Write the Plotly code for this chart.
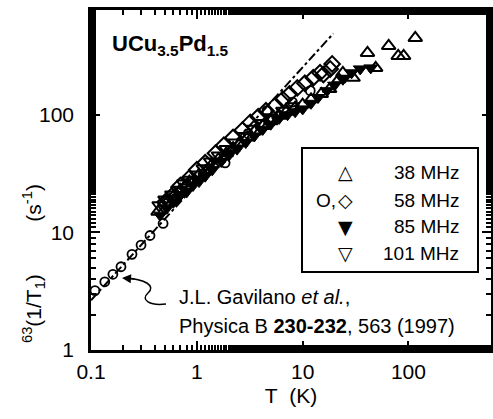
import plotly.graph_objects as go

# ---------------- data ----------------
# open circles (58 MHz, low T)
T_circ = [0.109, 0.135, 0.161, 0.192, 0.244, 0.297, 0.361, 0.48, 0.62, 0.9, 1.3, 1.85, 3.06, 4.6, 8.0, 11.8]
R_circ = [3.2, 3.8, 4.4, 5.1, 6.5, 7.8, 9.4, 11.9, 19, 27, 35, 39, 69, 108, 128, 160]

# 38 MHz open up-triangles
T_38 = [0.43, 0.5, 0.55, 0.62, 0.7, 0.78, 0.85, 0.95, 1.05, 1.2, 1.4, 1.6, 1.9, 2.2, 2.6, 3.0, 3.5, 4.2,
        5.0, 6.0, 7.0, 8.5, 10, 12, 15, 18, 22, 24, 30, 41, 49, 65, 80, 90, 116]
R_38 = [15, 18, 19, 21, 23, 25, 27, 28, 31, 33, 38, 42, 47, 52, 58, 64, 72, 80,
        88, 98, 106, 115, 122, 135, 150, 165, 200, 227, 206, 335, 250, 384, 316, 316, 449]

# 58 MHz open diamonds
T_58 = [0.5, 0.6, 0.7, 0.85, 1.0, 1.2, 1.5, 1.8, 2.2, 2.7, 3.2, 3.8, 4.5, 5.5, 6.5, 7.5, 8.9, 10.5,
        12.6, 14.6, 15.7, 18.2, 19]
R_58 = [18, 21, 25, 29, 34, 39, 47, 55, 64, 74, 86, 96, 108, 120, 135, 150, 169, 185,
        206, 227, 220, 245, 270]

# 85 MHz filled down-triangles
T_85 = [0.45, 0.52, 0.6, 0.68, 0.8, 0.92, 1.05, 1.2, 1.4, 1.7, 2.0, 2.4, 2.9, 3.5, 4.2, 5.0, 6.0, 7.2,
        8.5, 10, 12, 14, 17, 20, 24, 29, 35, 44]
R_85 = [14, 16, 18, 20, 22, 25, 27, 30, 34, 40, 45, 51, 58, 66, 75, 83, 93, 100,
        106, 112, 125, 140, 160, 178, 200, 227, 245, 250]

# 101 MHz open down-triangles
T_101 = [0.44, 0.5, 0.58, 0.66, 0.75, 0.85, 1.0, 1.15, 1.35, 1.6, 1.9, 2.3, 2.8, 3.4, 4.0, 5.0, 6.5, 8.0]
R_101 = [17, 19, 21, 23, 26, 28, 31, 35, 40, 45, 51, 58, 66, 76, 85, 95, 108, 118]

# dash-dot linear (Korringa-like) line
T_line = [0.1, 19.5]
R_line = [2.65, 490]

x_ticks = [0.1, 1, 10, 100]
x_ticktext = ["0.1", "1", "10", "100"]
y_ticks = [1, 10, 100]
y_ticktext = ["1", "10", "100"]

legend_labels = ["38 MHz", "58 MHz", "85 MHz", "101 MHz"]
legend_symbols = ["\u25b3", "\u25c7", "\u25bc", "\u25bd"]

# ---------------- layout geometry ----------------
W, H = 493, 419
L, R, Tm, B = 91, 2, 10, 69
PW, PH = W - L - R, H - Tm - B


def px(x):
    return (x - L) / PW


def py(y):
    return (H - B - y) / PH


FONT = "Liberation Sans, Arial, Helvetica, sans-serif"
XR, YR = "x domain", "y domain"

fig = go.Figure()

fig.add_trace(go.Scatter(x=T_line, y=R_line, mode="lines",
                         line=dict(color="black", width=2, dash="dashdot"), showlegend=False))
mk = dict(size=12, line=dict(color="black", width=2))
fig.add_trace(go.Scatter(x=T_38, y=R_38, mode="markers",
                         marker=dict(symbol="triangle-up-open", color="black", **mk), showlegend=False))
fig.add_trace(go.Scatter(x=T_58, y=R_58, mode="markers",
                         marker=dict(symbol="diamond-open", color="black", **mk), showlegend=False))
fig.add_trace(go.Scatter(x=T_101, y=R_101, mode="markers",
                         marker=dict(symbol="triangle-down-open", color="black", **mk), showlegend=False))
fig.add_trace(go.Scatter(x=T_85, y=R_85, mode="markers",
                         marker=dict(symbol="triangle-down", color="black", size=12,
                                     line=dict(color="black", width=1)), showlegend=False))
fig.add_trace(go.Scatter(x=T_circ, y=R_circ, mode="markers",
                         marker=dict(symbol="circle-open", color="black", size=9,
                                     line=dict(color="black", width=1.8)), showlegend=False))

axis_common = dict(type="log", showline=True, linecolor="black", linewidth=2.5, mirror="ticks",
                   ticks="inside", ticklen=9, tickwidth=2, tickcolor="black", showgrid=False,
                   zeroline=False, automargin=False,
                   tickfont=dict(family=FONT, size=21, color="black"),
                   minor=dict(ticks="inside", ticklen=5, tickwidth=1.5, tickcolor="black", showgrid=False))

fig.update_xaxes(range=[-1, 2.78], tickvals=x_ticks, ticktext=x_ticktext, ticklabelstandoff=1,
                 title=dict(text="T\u00a0\u00a0(K)", font=dict(family=FONT, size=21, color="black"),
                            standoff=7), **axis_common)
fig.update_yaxes(range=[0, 2.89], tickvals=y_ticks, ticktext=y_ticktext, ticklabelstandoff=10,
                 **axis_common)


def note(x, y, text, size, xanchor="center", family=FONT, **kw):
    return dict(xref=XR, yref=YR, x=px(x), y=py(y), xanchor=xanchor, yanchor="middle",
                showarrow=False, text=text, font=dict(family=family, size=size, color="black"), **kw)


ann = []
# y-axis title (rotated)
ann.append(note(33, 264,
                "<sup>63</sup>(1/T<sub>1</sub>)" + "\u00a0" * 9 + "(s<sup>-1</sup>)",
                21, textangle=-90))
# compound name
ann.append(note(110, 45, "<b>UCu<sub>3.5</sub>Pd<sub>1.5</sub></b>", 22, xanchor="left"))
# reference text
ann.append(note(177, 297, "J.L. Gavilano <i>et al.</i>,", 20, xanchor="left"))
ann.append(note(177, 326, "Physica B <b>230-232</b>, 563 (1997)", 20, xanchor="left"))
# arrowhead
ann.append(dict(xref=XR, yref=YR, x=px(122), y=py(278), ax=14, ay=1, text="",
                showarrow=True, arrowhead=2, arrowsize=1.2, arrowwidth=1.5, arrowcolor="black"))

# legend (drawn manually)
rows_y = [172, 200, 227, 253]
for lab, sym, yy in zip(legend_labels, legend_symbols, rows_y):
    ann.append(note(461, yy, lab, 19, xanchor="right"))
    ann.append(note(345, yy, sym, 19, family="DejaVu Sans"))
ann.append(note(326, rows_y[1], "O,", 19))

shapes = [
    dict(type="rect", xref=XR, yref=YR, x0=px(302), x1=px(478), y0=py(148), y1=py(272),
         line=dict(color="black", width=2), fillcolor="white", layer="below"),
    dict(type="path", xref=XR, yref=YR,
         path=(f"M {px(166)} {py(304)} C {px(150)} {py(306)}, {px(140)} {py(300)}, {px(148)} {py(293)} "
               f"C {px(156)} {py(286)}, {px(146)} {py(279)}, {px(124)} {py(278)}"),
         line=dict(color="black", width=1.5)),
]

fig.update_layout(width=W, height=H, margin=dict(l=L, r=R, t=Tm, b=B, autoexpand=False),
                  paper_bgcolor="white", plot_bgcolor="white",
                  annotations=ann, shapes=shapes, showlegend=False)

fig.write_html("out.html", config={"responsive": False, "displayModeBar": False},
               post_script="document.body.style.margin='0';document.body.style.overflow='hidden';")
